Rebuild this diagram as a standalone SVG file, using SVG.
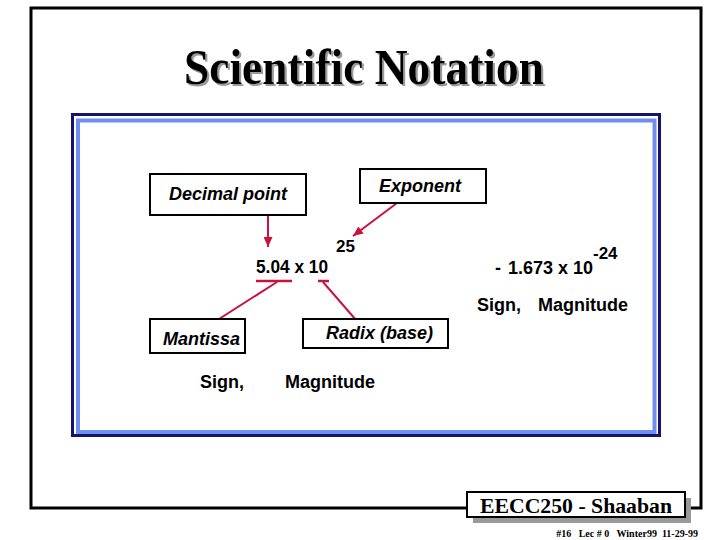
<svg xmlns="http://www.w3.org/2000/svg" width="720" height="540" viewBox="0 0 720 540">
<defs>
<style>
.lbl{font-family:"Liberation Sans",Arial,sans-serif;font-weight:bold;font-style:italic;font-size:18px;fill:#000}
.txt{font-family:"Liberation Sans",Arial,sans-serif;font-weight:bold;font-size:18px;fill:#000}
.sup{font-family:"Liberation Sans",Arial,sans-serif;font-weight:bold;font-size:17px;fill:#000}
.box{fill:#fff;stroke:#000;stroke-width:2}
.red{stroke:#c8143c;stroke-width:2;fill:none}
.bar{stroke:#c8143c;stroke-width:2.5;fill:none}
</style>
<filter id="shadow" x="-5%" y="-20%" width="115%" height="150%">
<feOffset in="SourceAlpha" dx="2" dy="2" result="off"/>
<feFlood flood-color="#9a9a9a"/>
<feComposite in2="off" operator="in" result="sh"/>
<feMerge><feMergeNode in="sh"/><feMergeNode in="SourceGraphic"/></feMerge>
</filter>
<marker id="ah" markerUnits="userSpaceOnUse" markerWidth="10" markerHeight="9" refX="10" refY="4.5" orient="auto">
<path d="M0,0 L10,4.5 L0,9 z" fill="#c8143c"/>
</marker>
</defs>
<rect width="720" height="540" fill="#fff"/>
<path d="M467,508 L31,508 L31,8 L701,8 L701,508 L691,508" fill="none" stroke="#000" stroke-width="3"/>
<g id="title">
<text x="184" y="84" filter="url(#shadow)" font-family="'Liberation Serif','Times New Roman',serif" font-weight="bold" font-size="50" fill="#000" textLength="360" lengthAdjust="spacingAndGlyphs">Scientific Notation</text>
</g>
<g id="panel">
<rect x="72.5" y="114.5" width="587" height="321" fill="#fff" stroke="#14146e" stroke-width="3"/>
<rect x="78" y="120.5" width="576.5" height="311.5" fill="none" stroke="#6f8ff0" stroke-width="4"/>
</g>
<g id="connectors">
<line class="red" x1="268" y1="216" x2="268" y2="247" marker-end="url(#ah)"/>
<line class="red" x1="397" y1="203" x2="353" y2="236" marker-end="url(#ah)"/>
<line class="bar" x1="256" y1="281" x2="292" y2="281"/>
<line class="bar" x1="318" y1="281" x2="329" y2="281"/>
<line class="red" x1="277" y1="282" x2="205" y2="328"/>
<line class="red" x1="323" y1="282" x2="356" y2="320"/>
</g>
<g id="decimal-point">
<rect class="box" x="150" y="174" width="156" height="41"/>
<text class="lbl" x="169" y="200">Decimal point</text>
</g>
<g id="exponent">
<rect class="box" x="360" y="169" width="126" height="34"/>
<text class="lbl" x="379" y="192">Exponent</text>
</g>
<g id="mantissa">
<rect class="box" x="150" y="319" width="95" height="34"/>
<text class="lbl" x="163" y="345">Mantissa</text>
</g>
<g id="radix">
<rect class="box" x="303" y="319" width="145" height="29"/>
<text class="lbl" x="326" y="339">Radix (base)</text>
</g>
<g id="example1">
<text class="txt" x="256" y="273" textLength="72" lengthAdjust="spacingAndGlyphs">5.04 x 10</text>
<text class="sup" x="336" y="252">25</text>
<text class="txt" x="200" y="388">Sign,</text>
<text class="txt" x="285" y="388">Magnitude</text>
</g>
<g id="example2">
<text class="txt" x="495" y="274">-</text>
<text class="txt" x="508" y="274">1.673 x 10</text>
<text class="sup" x="593" y="259">-24</text>
<text class="txt" x="477" y="311">Sign,</text>
<text class="txt" x="538" y="311">Magnitude</text>
</g>
<g id="footer">
<rect x="473" y="498" width="218" height="25" fill="#999"/>
<rect x="467" y="492" width="218" height="25" fill="#fff" stroke="#000" stroke-width="2"/>
<text x="480" y="513" font-family="'Liberation Serif','Times New Roman',serif" font-weight="bold" font-size="22" fill="#000" textLength="192" lengthAdjust="spacingAndGlyphs">EECC250 - Shaaban</text>
<text x="698" y="537" text-anchor="end" font-family="'Liberation Serif','Times New Roman',serif" font-weight="bold" font-size="10" fill="#000" xml:space="preserve">#16   Lec # 0   Winter99  11-29-99</text>
</g>
</svg>
